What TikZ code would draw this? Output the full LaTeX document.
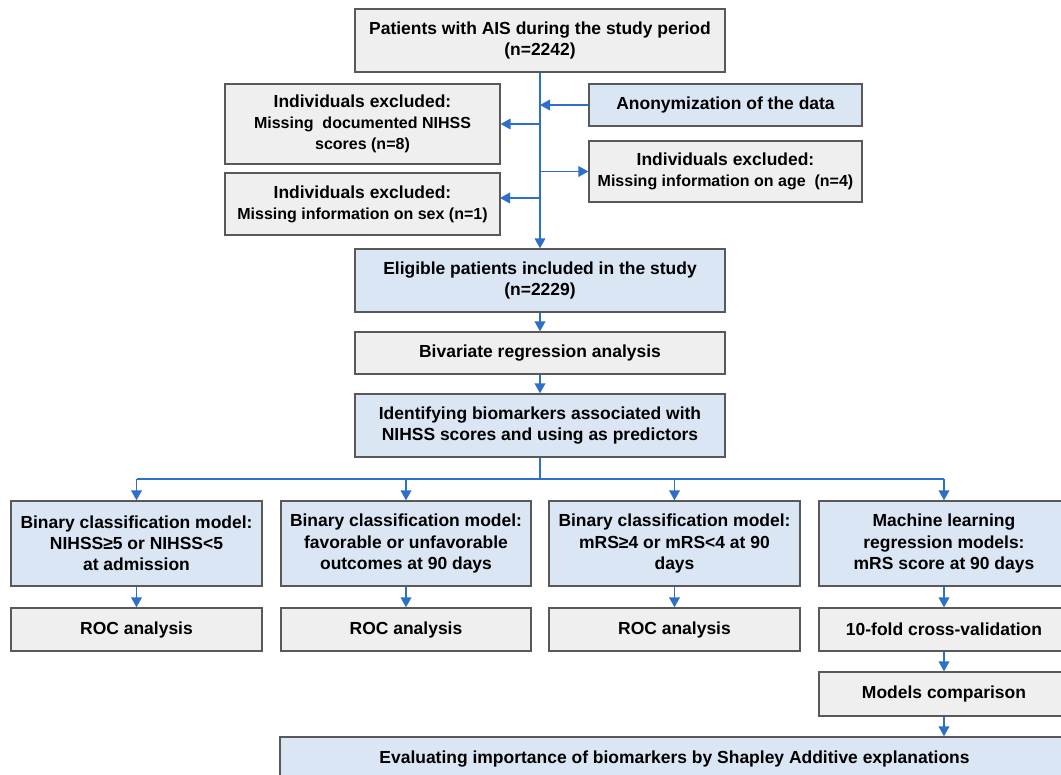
\documentclass[tikz,border=0pt]{standalone}
\usepackage{fontspec}
\setmainfont{Liberation Sans}
\usetikzlibrary{arrows.meta}
\definecolor{gfill}{HTML}{EFEFEF}
\definecolor{bfill}{HTML}{DAE6F4}
\definecolor{bord}{HTML}{595959}
\definecolor{arrc}{HTML}{2E6FCB}
\newcommand\bx[7]{%
 \pgfmathsetmacro\cx{(#2+#4)/2}\pgfmathsetmacro\cy{(#3+#5)/2}%
 \pgfmathsetmacro\ww{(#4-#2)*0.75}\pgfmathsetmacro\hh{(#5-#3)*0.75}%
 \node[#6, minimum width=\ww pt, minimum height=\hh pt] (#1) at (\cx,\cy) {#7};}
\newcommand\smallline[1]{{\fontsize{12}{15.75}\selectfont #1}}
\begin{document}
\begin{tikzpicture}[x=0.75pt,y=-0.75pt,
  basebox/.style={draw=bord, line width=1pt, inner sep=0pt, align=center,
     font=\fontsize{13.1}{15.9}\selectfont\bfseries},
  graybox/.style={basebox, fill=gfill},
  bluebox/.style={basebox, fill=bfill},
  conn/.style={draw=arrc, line width=1.3pt},
  arr/.style={conn, -{Triangle[length=7.5pt,width=8pt]}}]
\useasboundingbox (0,0) rectangle (1061,775);
\fill[white] (0,0) rectangle (1061,775);
\bx{top}{355}{9}{725}{72}{graybox}{Patients with AIS during the study period\\(n=2242)}
\bx{anon}{589}{84}{862}{126}{bluebox}{Anonymization of the data}
\bx{nihss}{225}{84}{500}{164}{graybox}{Individuals excluded:\\\smallline{Missing\ \ documented NIHSS}\\\smallline{scores (n=8)}}
\bx{age}{589}{141}{862}{202}{graybox}{Individuals excluded:\\\smallline{Missing information on age\ \ (n=4)}}
\bx{sex}{225}{173}{500}{235}{graybox}{Individuals excluded:\\\smallline{Missing information on sex (n=1)}}
\bx{elig}{355}{249}{725}{312}{bluebox}{Eligible patients included in the study\\(n=2229)}
\bx{biv}{355}{332}{725}{374}{graybox}{Bivariate regression analysis}
\bx{ident}{355}{394}{725}{457}{bluebox}{Identifying biomarkers associated with\\NIHSS scores and using as predictors}
\bx{b1}{11}{501}{262}{586}{bluebox}{Binary classification model:\\NIHSS≥5 or NIHSS<5\\at admission}
\bx{b2}{281}{501}{531}{586}{bluebox}{Binary classification model:\\favorable or unfavorable\\outcomes at 90 days}
\bx{b3}{549}{501}{800}{586}{bluebox}{Binary classification model:\\mRS≥4 or mRS<4 at 90\\days}
\bx{b4}{819}{501}{1069}{586}{bluebox}{Machine learning\\regression models:\\mRS score at 90 days}
\bx{r1}{11}{608}{262}{651}{graybox}{ROC analysis}
\bx{r2}{281}{608}{531}{651}{graybox}{ROC analysis}
\bx{r3}{549}{608}{800}{651}{graybox}{ROC analysis}
\bx{cv}{819}{608}{1069}{651}{graybox}{10-fold cross-validation}
\bx{mc}{819}{672}{1069}{716}{graybox}{Models comparison}
\bx{ev}{280}{737}{1069}{781}{bluebox}{Evaluating importance of biomarkers by Shapley Additive explanations}
% connectors
\draw[arr] (top.south) -- (elig.north);
\draw[arr] (anon.west) -- (anon.west -| top.south);
\draw[arr] (nihss.east -| top.south) -- (nihss.east);
\draw[arr] (age.west -| top.south) -- (age.west);
\coordinate (sexin) at (500,198);
\draw[arr] (sexin -| top.south) -- (sexin);
\draw[arr] (elig.south) -- (biv.north);
\draw[arr] (biv.south) -- (ident.north);
\coordinate (bus) at (540,479);
\draw[conn] (ident.south) -- (bus);
\draw[conn] (b1.north |- bus) -- (b4.north |- bus);
\foreach \b in {b1,b2,b3,b4} \draw[arr] (\b.north |- bus) -- (\b.north);
\draw[arr] (b1.south) -- (r1.north);
\draw[arr] (b2.south) -- (r2.north);
\draw[arr] (b3.south) -- (r3.north);
\draw[arr] (b4.south) -- (cv.north);
\draw[arr] (cv.south) -- (mc.north);
\draw[arr] (mc.south) -- (mc.south |- ev.north);
\end{tikzpicture}
\end{document}
